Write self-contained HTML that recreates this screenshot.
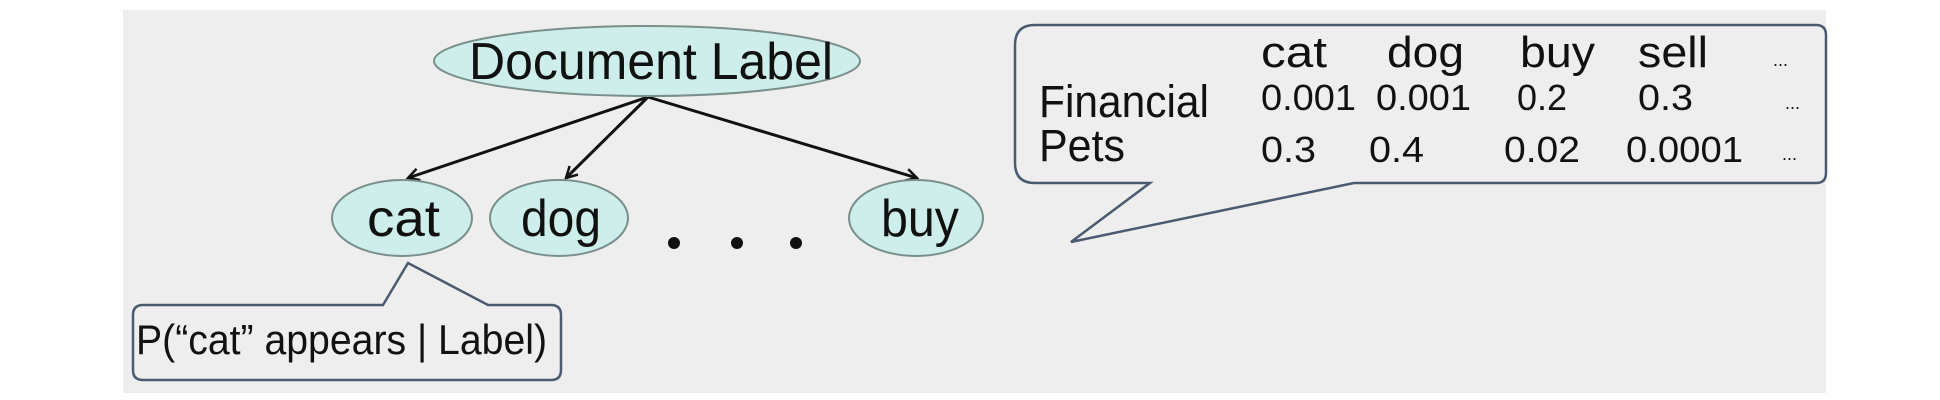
<!DOCTYPE html>
<html><head><meta charset="utf-8"><style>
html,body{margin:0;padding:0;background:#fff;}
svg{display:block}
text{font-family:"Liberation Sans",sans-serif;fill:#111;}
</style></head><body>
<svg width="1940" height="400" viewBox="0 0 1940 400" xmlns="http://www.w3.org/2000/svg">
<defs>
<marker id="a" markerWidth="14" markerHeight="14" refX="12" refY="7" orient="auto" markerUnits="userSpaceOnUse">
<path d="M1,1 L12,7 L1,13" fill="none" stroke="#111" stroke-width="2.5"/>
</marker>
</defs>
<rect x="123" y="10" width="1703" height="383" fill="#eeeeee"/>
<g stroke="#111" stroke-width="3" fill="none">
<line x1="648" y1="97" x2="408" y2="178" marker-end="url(#a)"/>
<line x1="648" y1="97" x2="566" y2="178" marker-end="url(#a)"/>
<line x1="648" y1="97" x2="917" y2="178" marker-end="url(#a)"/>
</g>
<g fill="#cdeeea" stroke="#7a8f8c" stroke-width="2">
<ellipse cx="647" cy="61" rx="213" ry="35"/>
<ellipse cx="402" cy="218" rx="70" ry="38"/>
<ellipse cx="559" cy="218" rx="69" ry="38"/>
<ellipse cx="916" cy="218" rx="67" ry="38"/>
</g>
<text x="469" y="79" font-size="52" textLength="364" lengthAdjust="spacingAndGlyphs">Document Label</text>
<text x="367" y="236" font-size="52" textLength="73" lengthAdjust="spacingAndGlyphs">cat</text>
<text x="521" y="236" font-size="52" textLength="80" lengthAdjust="spacingAndGlyphs">dog</text>
<text x="881" y="236" font-size="52" textLength="78" lengthAdjust="spacingAndGlyphs">buy</text>
<g fill="#111"><circle cx="674" cy="243" r="6"/><circle cx="737" cy="243" r="6"/><circle cx="796" cy="243" r="6"/></g>
<path d="M143,305 L383,305 L408,263 L488,305 L551,305 Q561,305 561,315 L561,370 Q561,380 551,380 L143,380 Q133,380 133,370 L133,315 Q133,305 143,305 Z" fill="#eeeeee" stroke="#4a5a70" stroke-width="2.5"/>
<text x="136" y="354" font-size="42" textLength="411" lengthAdjust="spacingAndGlyphs">P(“cat” appears | Label)</text>
<path d="M1035,25 L1816,25 Q1826,25 1826,35 L1826,173 Q1826,183 1816,183 L1354,183 L1071,242 L1150,183 L1035,183 Q1015,183 1015,163 L1015,45 Q1015,25 1035,25 Z" fill="#eeeeee" stroke="#4a5a70" stroke-width="2.5"/>
<g font-size="44">
<text x="1261" y="67" textLength="66" lengthAdjust="spacingAndGlyphs">cat</text>
<text x="1387" y="67" textLength="77" lengthAdjust="spacingAndGlyphs">dog</text>
<text x="1520" y="67" textLength="75" lengthAdjust="spacingAndGlyphs">buy</text>
<text x="1638" y="67" textLength="70" lengthAdjust="spacingAndGlyphs">sell</text>
<text x="1039" y="117" font-size="45" textLength="170" lengthAdjust="spacingAndGlyphs">Financial</text>
<text x="1039" y="161" font-size="45" textLength="86" lengthAdjust="spacingAndGlyphs">Pets</text>
</g>
<g font-size="36">
<text x="1261" y="110" textLength="95" lengthAdjust="spacingAndGlyphs">0.001</text>
<text x="1376" y="110" textLength="95" lengthAdjust="spacingAndGlyphs">0.001</text>
<text x="1517" y="110" textLength="50" lengthAdjust="spacingAndGlyphs">0.2</text>
<text x="1638" y="110" textLength="55" lengthAdjust="spacingAndGlyphs">0.3</text>
<text x="1261" y="162" textLength="55" lengthAdjust="spacingAndGlyphs">0.3</text>
<text x="1369" y="162" textLength="55" lengthAdjust="spacingAndGlyphs">0.4</text>
<text x="1504" y="162" textLength="76" lengthAdjust="spacingAndGlyphs">0.02</text>
<text x="1626" y="162" textLength="117" lengthAdjust="spacingAndGlyphs">0.0001</text>
</g>
<g font-size="18">
<text x="1773" y="66">...</text>
<text x="1785" y="109">...</text>
<text x="1782" y="160">...</text>
</g>
</svg>
</body></html>
